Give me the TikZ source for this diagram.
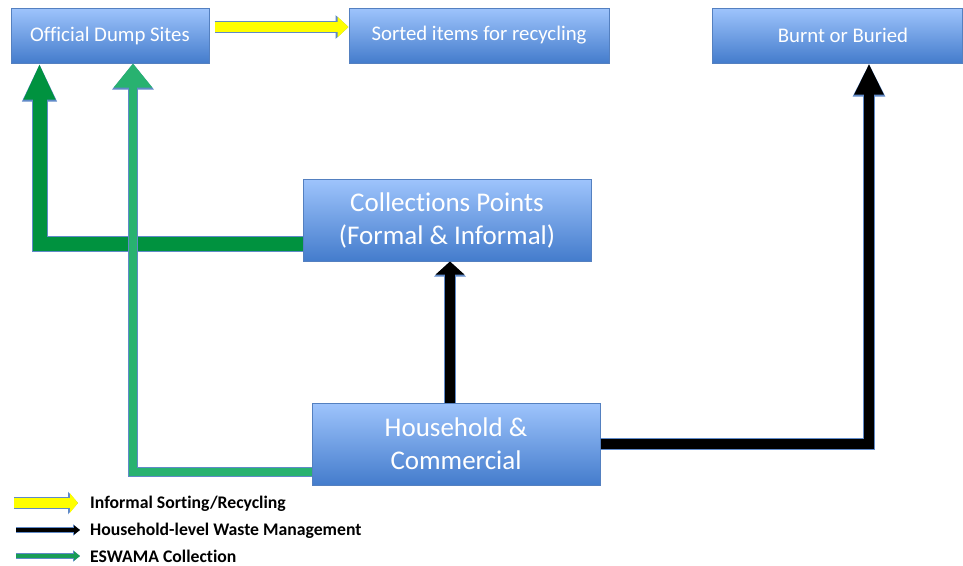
\documentclass[tikz,border=0pt]{standalone}
\usepackage{fontspec}
\setmainfont{Carlito}[Ligatures=NoCommon]
\usetikzlibrary{arrows.meta, positioning}

\definecolor{boxtop}{RGB}{158,196,252}
\definecolor{boxbottom}{RGB}{68,124,204}
\definecolor{boxline}{RGB}{84,128,192}
\definecolor{arrowline}{RGB}{96,138,200}
\definecolor{darkgreen}{RGB}{0,146,63}
\definecolor{lightgreen}{RGB}{40,178,112}
\definecolor{legendgreen}{RGB}{24,156,86}
\definecolor{sortyellow}{RGB}{255,255,0}

\tikzset{
  site/.style={rectangle, draw=boxline, line width=1pt, top color=boxtop, bottom color=boxbottom, text=white, align=center, inner sep=0pt},  % blue box
  smallsite/.style={site, minimum height=55pt, font=\fontsize{20.8}{24}\selectfont},  % top row boxes
  bigsite/.style={site, minimum width=288pt, minimum height=82pt, font=\fontsize{27}{33}\selectfont},  % middle boxes
  legendtext/.style={anchor=base west, inner sep=0pt, font=\bfseries\fontsize{17.7}{20}\selectfont},  % legend labels
  recycleflow/.style={draw=sortyellow, line width=10pt, -{Triangle[length=11pt,width=20pt]}, preaction={draw=arrowline, line width=12pt, -{Triangle[length=13pt,width=23pt]}}},  % yellow arrow
  eswamadark/.style={draw=darkgreen, line width=14pt, -{Triangle[length=36pt,width=29pt]}, preaction={draw=arrowline, line width=16pt, -{Triangle[length=38pt,width=32pt]}}},  % dark green arrow
  eswamalight/.style={draw=lightgreen, line width=8pt, -{Triangle[length=24pt,width=37pt]}, preaction={draw=arrowline, line width=10pt, -{Triangle[length=26pt,width=40pt]}}},  % light green arrow
  householdup/.style={draw=black, line width=10pt, -{Triangle[length=13pt,width=28pt]}, preaction={draw=arrowline, line width=12pt, -{Triangle[length=15pt,width=31pt]}}},  % short black arrow
  householdlong/.style={draw=black, line width=10pt, -{Triangle[length=31pt,width=27pt]}, preaction={draw=arrowline, line width=12pt, -{Triangle[length=33pt,width=30pt]}}},  % long black arrow
  recyclekey/.style={draw=sortyellow, line width=10pt, -{Triangle[length=8pt,width=19pt]}, preaction={draw=arrowline, line width=12pt, -{Triangle[length=10pt,width=22pt]}}},  % legend yellow
  householdkey/.style={draw=black, line width=4pt, -{Triangle[length=6pt,width=9pt]}, preaction={draw=arrowline, line width=6pt, -{Triangle[length=7pt,width=11pt]}}},  % legend black
  eswamakey/.style={draw=legendgreen, line width=4pt, -{Triangle[length=6pt,width=9pt]}, preaction={draw=arrowline, line width=6pt, -{Triangle[length=7pt,width=11pt]}}}  % legend green
}

\begin{document}
\begin{tikzpicture}[x=1pt, y=-1pt]  % one unit per pixel, y downwards
    \useasboundingbox[fill=white] (0,0) rectangle (963,565);  % page size

    \node[smallsite, minimum width=198pt] (dump) at (110,35.5) {Official Dump Sites};  % top left
    \node[smallsite, minimum width=260pt] (sorted) at (479,35.5) {Sorted items for recycling};  % top middle
    \node[smallsite, minimum width=250pt] (burnt) at (837,35.5) {\hspace{12pt}Burnt or Buried};  % top right
    \node[bigsite] (collect) at (447,220) {Collections Points\\(Formal \& Informal)};  % middle
    \node[bigsite] (house) at (456,444) {Household \&\\Commercial};  % bottom

    \draw[recycleflow] ([xshift=5pt,yshift=8.5pt]dump.east) -- ([yshift=8.5pt]sorted.west);  % sorting
    \draw[eswamadark] ([yshift=-23.5pt]collect.west) -| ([xshift=29pt]dump.south west);  % collection points to dump
    \draw[eswamalight] ([yshift=-27.5pt]house.west) -| ([xshift=122.5pt]dump.south west);  % household to dump
    \draw[householdup] ([xshift=-6pt]house.north) -- ([xshift=-6pt]house.north |- collect.south);  % household to collection points
    \draw[householdlong] (house.east) -| ([xshift=32pt]burnt.south);  % household to burnt

    \node[legendtext] (keyrecycle) at (90,508) {Informal Sorting/Recycling};  % legend line 1
    \node[legendtext] (keyhousehold) at (90,535) {Household-level Waste Management};  % legend line 2
    \node[legendtext] (keyeswama) at (90,562) {ESWAMA Collection};  % legend line 3
    \coordinate (startrecycle) at (14,503);
    \coordinate (starthousehold) at (16,530);
    \coordinate (starteswama) at (16,556);
    \draw[recyclekey] (startrecycle) -- ([xshift=-12pt]keyrecycle.base west |- startrecycle);  % yellow key
    \draw[householdkey] (starthousehold) -- ([xshift=-10pt]keyhousehold.base west |- starthousehold);  % black key
    \draw[eswamakey] (starteswama) -- ([xshift=-10pt]keyeswama.base west |- starteswama);  % green key
\end{tikzpicture}
\end{document}
